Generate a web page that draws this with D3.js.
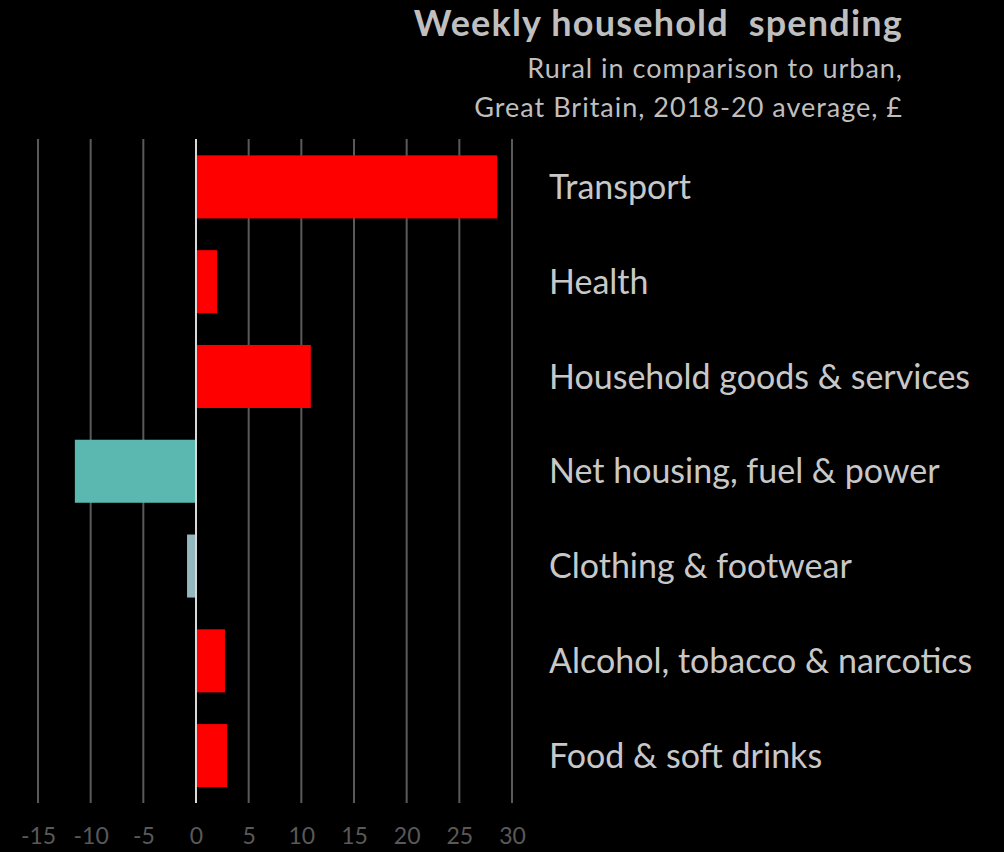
<!DOCTYPE html>
<html>
<head>
<meta charset="utf-8">
<script src="https://cdn.jsdelivr.net/npm/d3@7"></script>
<style>
  body { margin: 0; background: #000; }
  svg { display: block; font-family: Lato, "Open Sans", sans-serif; }
</style>
</head>
<body>
<svg id="chart" width="1004" height="852"></svg>
<script>
// categories, top to bottom
var categories = ["Transport", "Health", "Household goods & services", "Net housing, fuel & power",
	"Clothing & footwear", "Alcohol, tobacco & narcotics", "Food & soft drinks"];
// rural minus urban, £ per week
var values = [28.6, 2.0, 10.9, -11.5, -0.85, 2.75, 2.95];
var barColors = ["#ff0000", "#ff0000", "#ff0000", "#5bb8b1", "#93b8be", "#ff0000", "#ff0000"];
var tickValues = [-15, -10, -5, 0, 5, 10, 15, 20, 25, 30];

var svg = d3.select("#chart");

var x = d3.scaleLinear().domain([-15, 30]).range([38, 512]);
var y = d3.scaleBand().domain(categories).range([139.5, 803]).paddingInner(0.335).paddingOuter(0.1675);

// vertical gridlines
svg.append("g").attr("class", "grid")
	.selectAll("line")
	.data(tickValues)
	.enter().append("line")
	.attr("x1", function(d) { return x(d); })
	.attr("x2", function(d) { return x(d); })
	.attr("y1", 139)
	.attr("y2", 803)
	.attr("stroke", function(d) { return d == 0 ? "#d9d9d9" : "#5a5a5a"; })
	.attr("stroke-width", 2);

// bars
svg.append("g").selectAll("rect")
	.data(categories)
	.enter().append("rect")
	.attr("x", function(d, i) { return values[i] < 0 ? x(values[i]) : x(0) + 1; })
	.attr("width", function(d, i) { return Math.abs(x(values[i]) - x(0)) - 1; })
	.attr("y", function(d) { return y(d); })
	.attr("height", y.bandwidth())
	.attr("fill", function(d, i) { return barColors[i]; });

// x axis labels (plain hyphen for negatives, like the original)
var xAxis = d3.axisBottom(x).tickValues(tickValues).tickSize(0).tickPadding(0)
	.tickFormat(function(d) { return String(d); });
var gx = svg.append("g").attr("transform", "translate(0,836)").call(xAxis);
gx.select(".domain").remove();
gx.selectAll("text")
	.attr("dy", "0.35em")
	.attr("fill", "#595959")
	.style("font-size", "23px")
	.style("font-family", "Lato, sans-serif");

// category labels on the right
svg.append("g").selectAll("text")
	.data(categories)
	.enter().append("text")
	.attr("x", 549)
	.attr("y", function(d) { return y(d) + y.bandwidth() / 2; })
	.attr("dy", "0.36em")
	.attr("fill", "#c8c8c8")
	.style("font-size", "34px")
	.text(function(d) { return d; });

// title block
svg.append("text")
	.attr("x", 903).attr("y", 36)
	.attr("text-anchor", "end")
	.attr("fill", "#bfbfbf")
	.style("font-size", "36px")
	.style("font-weight", "bold")
	.style("letter-spacing", "1.2px")
	.style("white-space", "pre")
	.text("Weekly household  spending");
svg.append("text")
	.attr("x", 903).attr("y", 78)
	.attr("text-anchor", "end")
	.attr("fill", "#bfbfbf")
	.style("font-size", "27px")
	.style("letter-spacing", "1px")
	.text("Rural in comparison to urban,");
svg.append("text")
	.attr("x", 903).attr("y", 117)
	.attr("text-anchor", "end")
	.attr("fill", "#bfbfbf")
	.style("font-size", "27px")
	.style("letter-spacing", "1px")
	.text("Great Britain, 2018-20 average, £");
</script>
</body>
</html>
